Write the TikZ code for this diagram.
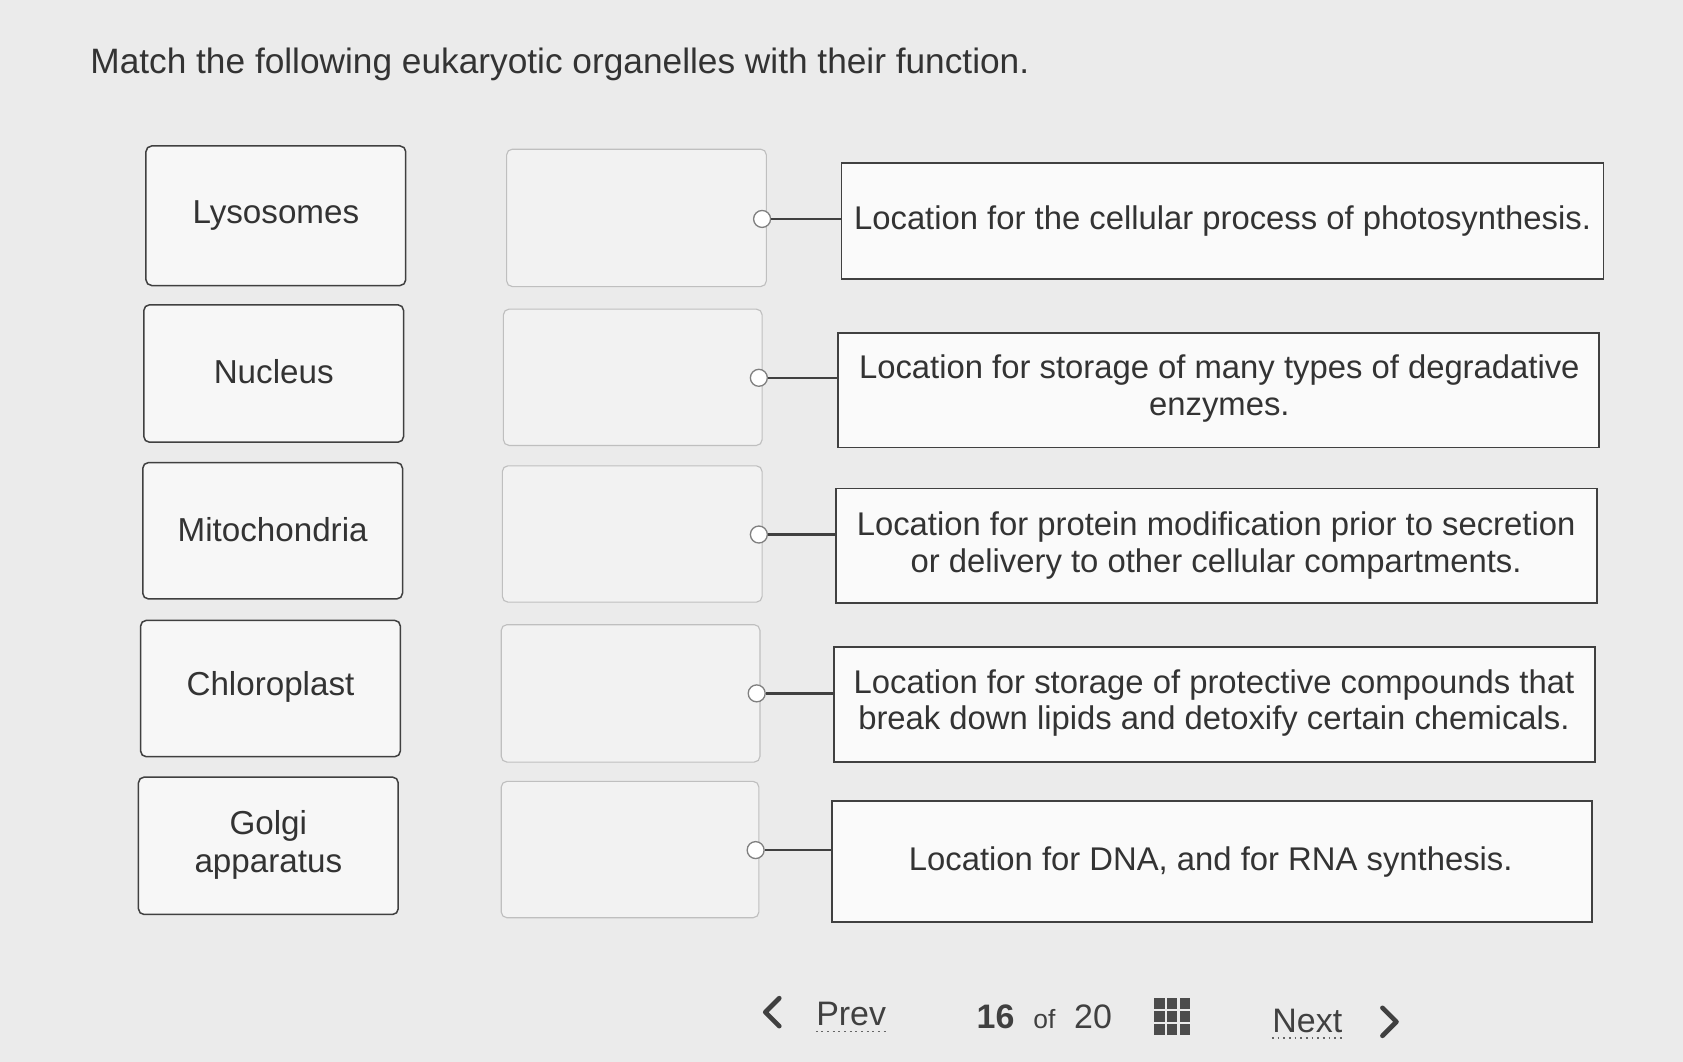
\documentclass[tikz,border=0pt]{standalone}
\usepackage{fontspec}
\setmainfont{Liberation Sans}
\begin{document}
\begin{tikzpicture}[x=0.02cm,y=-0.02cm,
 lbox/.style={draw=black!75,line width=0.8pt,rounded corners=3pt,fill=black!3},
 mbox/.style={draw=black!25,line width=0.6pt,rounded corners=3pt,fill=black!5},
 rbox/.style={draw=black!75,line width=0.9pt,fill=black!2},
 lab/.style={font=\fontsize{17.6}{20}\selectfont,text=black!80,align=center},
 rlab/.style={font=\fontsize{17.4}{19.5}\selectfont,text=black!80,align=center},
 conn/.style={draw=black!75,line width=1.2pt},
 dot/.style={circle,draw=black!50,fill=white,inner sep=0pt,minimum size=9pt,line width=0.7pt}]
\fill[black!8!white] (0,0) rectangle (1568,989);
\useasboundingbox (0,0) rectangle (1568,989);
\node[anchor=west,font=\fontsize{18.7}{22}\selectfont,text=black!80] (title) at (78,60) {Match the following eukaryotic organelles with their function.};
% left boxes
\draw[lbox] (136,136) rectangle (378,266); \node[lab] (l1) at (257,201) {Lysosomes};
\draw[lbox] (134,284) rectangle (376,412); \node[lab] (l2) at (255,346) {Nucleus};
\draw[lbox] (133,431) rectangle (375,558); \node[lab] (l3) at (254,493) {Mitochondria};
\draw[lbox] (131,578) rectangle (373,705); \node[lab] (l4) at (252,640) {Chloroplast};
\draw[lbox] (129,724) rectangle (371,852); \node[lab] (l5) at (250,787) {Golgi\\apparatus};
% middle
\draw[mbox] (472,139) rectangle (714,267);
\draw[mbox] (469,288) rectangle (710,415);
\draw[mbox] (468,434) rectangle (710,561);
\draw[mbox] (467,582) rectangle (708,710);
\draw[mbox] (467,728) rectangle (707,855);
% right
\draw[rbox] (784,152) rectangle (1494,260); \node[rlab] (r1) at (1139,206) {Location for the cellular process of photosynthesis.};
\draw[rbox] (781,310) rectangle (1490,417); \node[rlab] (r2) at (1136,362) {Location for storage of many types of degradative\\enzymes.};
\draw[rbox] (779,455) rectangle (1488,562); \node[rlab] (r3) at (1133,508) {Location for protein modification prior to secretion\\or delivery to other cellular compartments.};
\draw[rbox] (777,603) rectangle (1486,710); \node[rlab] (r4) at (1131,655) {Location for storage of protective compounds that\\break down lipids and detoxify certain chemicals.};
\draw[rbox] (775,746) rectangle (1483,859); \node[rlab] (r5) at (1128,803) {Location for DNA, and for RNA synthesis.};
% connectors
\foreach \y/\x/\e [count=\i] in {204/710/784,352/707/781,498/707/779,646/705/777,792/704/775}{
 \coordinate (e\i) at (\e,\y);
 \node[dot] (d\i) at (\x,\y) {};
 \draw[conn] (d\i) -- (e\i);
}
% nav
\draw[black!75,line width=2.5pt,line cap=round,line join=round] (726,930) -- (713,943) -- (726,956);
\node[font=\fontsize{18}{20}\selectfont,text=black!75] (prev) at (793,945) {Prev};
\draw[black!60,dotted,line width=1pt] (760,961) -- (826,961);
\node[font=\fontsize{18}{20}\selectfont,text=black!75] (pg) at (973,947) {\textbf{16}\ \ {\fontsize{14}{16}\selectfont of}\ \ 20};
\foreach \a in {0,1,2}{\foreach \b in {0,1,2}{\fill[black!70] (1075+\a*12,930+\b*12) rectangle ++(10,10);}}
\node[font=\fontsize{18}{20}\selectfont,text=black!75] (next) at (1218,951) {Next};
\draw[black!60,dotted,line width=1pt] (1185,967) -- (1252,967);
\draw[black!75,line width=2.5pt,line cap=round,line join=round] (1288,939) -- (1301,952) -- (1288,965);
\end{tikzpicture}
\end{document}
